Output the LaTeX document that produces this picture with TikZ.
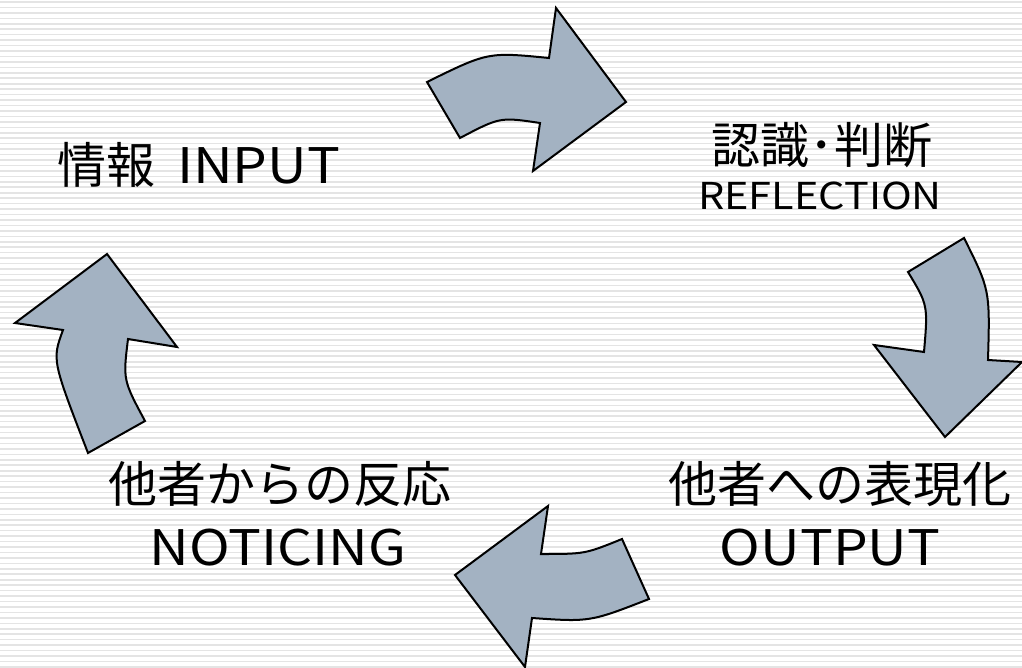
\documentclass[tikz,border=0pt]{standalone}
\usepackage{fontspec}
\setmainfont{Noto Sans CJK JP}
\newfontfamily\latinwide[FakeStretch=1.12]{Noto Sans CJK JP}
\definecolor{arrowfill}{RGB}{163,178,194}
\definecolor{stripe}{RGB}{228,228,228}
\tikzset{
  blockarrow/.style={fill=arrowfill, draw=black, line width=2pt, line join=miter},
  big/.style={font=\fontsize{49}{55}\selectfont, inner sep=0pt, anchor=base},
  small/.style={font=\fontsize{37}{42}\selectfont, inner sep=0pt, anchor=base},
}
\begin{document}
\begin{tikzpicture}[x=1pt,y=-1pt]
\useasboundingbox (0,0) rectangle (1022,668);
\clip (0,0) rectangle (1022,668);
\fill[white] (0,0) rectangle (1022,668);
\foreach \i in {0,...,122} {
  \draw[stripe, line width=1.6pt] (0,{\i*5.45+2}) -- (1022,{\i*5.45+2});
}
% arrow 1: top, pointing right
\draw[blockarrow] (427,82) .. controls (488,52) .. (549,58) -- (556,8) -- (626,102)
  -- (533,171) -- (540,123) .. controls (500,117) .. (460,138) -- cycle;
% arrow 2: right, pointing down
\draw[blockarrow] (964,238) .. controls (990,290) .. (988,360) -- (1022,362) -- (945,437)
  -- (874,345) -- (924,352) .. controls (928,305) .. (908,272) -- cycle;
% arrow 3: bottom, pointing left
\draw[blockarrow] (622,539) -- (649,599) .. controls (590,622) .. (532,618) -- (525,667)
  -- (455,575) -- (548,506) -- (541,554) .. controls (585,554) .. (622,539) -- cycle;
% arrow 4: left, pointing up
\draw[blockarrow] (88,453) .. controls (52,360) .. (63,330) -- (15,323) -- (107,254)
  -- (177,347) -- (128,339) .. controls (123,380) .. (145,421) -- cycle;
% texts
\node[big, anchor=base west] (input) at (57,184) {情報\hspace{22pt}{\latinwide INPUT}};
\node[big] (refj) at (822,164) {認識･判断};
\node[small] (refl) at (820,210) {\latinwide REFLECTION};
\node[big] (notj) at (280,502) {他者からの反応};
\node[big] (noti) at (278,565) {\latinwide NOTICING};
\node[big] (outj) at (840,502) {他者への表現化};
\node[big] (outp) at (830,565) {\latinwide OUTPUT};
\end{tikzpicture}
\end{document}
